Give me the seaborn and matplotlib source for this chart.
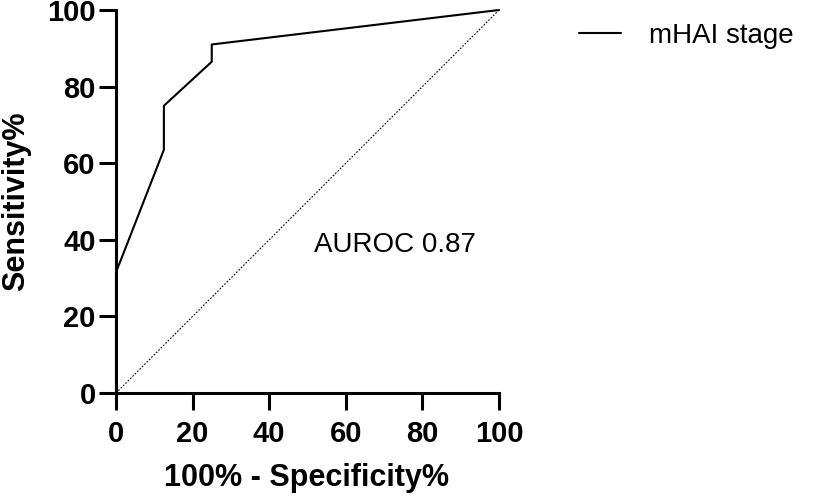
import numpy as np
import pandas as pd
import seaborn as sns
import matplotlib.pyplot as plt

# ROC points
fpr = [0, 0, 12.5, 12.5, 25, 25, 100]
sensitivity = [0, 31.5, 63.5, 75, 86.5, 91, 100]
ref_line = [0, 100]
ticks = [0, 20, 40, 60, 80, 100]
auroc_text = 'AUROC 0.87'
series_name = 'mHAI stage'

sns.set_style('ticks')
plt.rcParams['font.family'] = ['Liberation Sans', 'DejaVu Sans']
plt.rcParams['text.color'] = 'black'
plt.rcParams['axes.labelcolor'] = 'black'
plt.rcParams['xtick.color'] = 'black'
plt.rcParams['ytick.color'] = 'black'

roc = pd.DataFrame({'fpr': fpr, 'sens': sensitivity, 'name': series_name})

fig = plt.figure(figsize=(8.14, 4.98), dpi=100)
ax = fig.add_axes([116 / 814, 1 - 393 / 498, (499 - 116) / 814, (393 - 10) / 498])

sns.lineplot(data=roc, x='fpr', y='sens', sort=False, color='black', linewidth=1.5,
             estimator=None, ax=ax, label=series_name, clip_on=False)
ax.plot(ref_line, ref_line, color='black', linestyle=(0, (1.5, 1.5)), linewidth=0.8)

ax.set_xlim(0, 100)
ax.set_ylim(0, 100)
ax.set_xticks(ticks)
ax.set_yticks(ticks)
ax.set_xticklabels([str(t) for t in ticks], fontsize=21, fontweight='bold')
ax.set_yticklabels([str(t) for t in ticks], fontsize=21, fontweight='bold')
ax.tick_params(axis='both', length=12.5, width=2.2, color='black', labelcolor='black')
ax.tick_params(axis='x', pad=7)
ax.tick_params(axis='y', pad=2)
for side in ['left', 'bottom']:
    ax.spines[side].set_linewidth(2.2)
    ax.spines[side].set_color('black')
sns.despine(ax=ax)

ax.set_xlabel('100% - Specificity%', fontsize=22, fontweight='bold')
ax.set_ylabel('Sensitivity%', fontsize=22, fontweight='bold')
ax.xaxis.label.set_va('center')
ax.yaxis.label.set_va('center')
ax.xaxis.set_label_coords((307 - 116) / 383, (393 - 478) / 383)
ax.yaxis.set_label_coords((16 - 116) / 383, (393 - 201) / 383)

ax.text(72.8, 38.6, auroc_text, fontsize=20, ha='center', va='center')

ax.legend(loc='center left', bbox_to_anchor=(568 / 814, 1 - 36 / 498), bbox_transform=fig.transFigure,
          frameon=False, fontsize=20, handlelength=1.5, handletextpad=1.0, borderaxespad=0)

fig.savefig('out.png', dpi=100)
